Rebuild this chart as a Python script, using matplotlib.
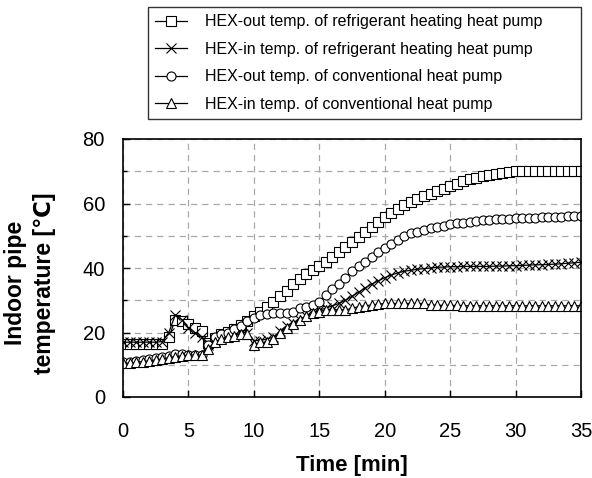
import numpy as np
import matplotlib.pyplot as plt
from matplotlib.ticker import MultipleLocator

plt.rcParams['font.family'] = ['Liberation Sans', 'DejaVu Sans']

# time axis, one reading every half minute
t = np.arange(0, 35.5, 0.5)

# HEX-out temp. of refrigerant heating heat pump (squares)
refOut = [16.5, 16.5, 16.5, 16.3, 16.3, 16.3, 16.5, 18.5, 24.0, 23.5,
          22.5, 21.5, 20.5, 16.8, 18.2, 19.5, 20.3, 21.0, 22.2, 23.5,
          25.0, 26.5, 28.0, 29.5, 31.3, 33.0, 35.0, 36.5, 38.0, 39.3,
          40.7, 42.0, 43.3, 45.0, 46.5, 48.0, 49.7, 51.3, 52.8, 54.3,
          55.7, 57.0, 58.3, 59.5, 60.5, 61.3, 62.2, 63.0, 63.8, 64.6,
          65.4, 66.2, 66.9, 67.5, 68.0, 68.4, 68.8, 69.1, 69.4, 69.7,
          70.0, 70.0, 70.0, 70.0, 70.0, 70.0, 70.0, 70.0, 70.0, 70.0, 70.0]

# HEX-in temp. of refrigerant heating heat pump (crosses)
refIn = [17.0, 17.0, 17.0, 17.0, 17.0, 17.0, 17.2, 20.0, 25.5, 24.0,
         21.5, 20.0, 18.5, 16.0, 17.5, 18.5, 19.0, 19.5, 20.0, 20.0,
         17.5, 17.5, 18.0, 18.5, 20.5, 22.0, 23.0, 24.0, 25.0, 26.0,
         27.0, 27.5, 28.3, 29.0, 30.0, 31.2, 32.5, 33.8, 35.0, 36.0,
         37.0, 37.8, 38.5, 39.0, 39.3, 39.6, 39.8, 40.0, 40.2, 40.3,
         40.4, 40.4, 40.5, 40.5, 40.5, 40.5, 40.5, 40.6, 40.6, 40.7,
         40.7, 40.8, 40.9, 41.0, 41.0, 41.1, 41.2, 41.3, 41.5, 41.6, 41.8]

# HEX-out temp. of conventional heat pump (circles)
conOut = [11.0, 11.0, 11.2, 11.5, 11.8, 12.0, 12.3, 12.8, 13.3, 13.3,
          13.0, 13.0, 13.0, 16.0, 18.5, 19.5, 20.0, 21.0, 22.0, 23.5,
          24.5, 25.5, 25.8, 26.0, 26.0, 26.0, 26.5, 27.5, 28.0, 28.5,
          29.5, 31.5, 33.5, 35.0, 37.0, 39.0, 40.5, 42.0, 43.5, 45.0,
          46.3, 47.5, 48.7, 50.0, 50.8, 51.3, 51.8, 52.3, 52.7, 53.1,
          53.5, 53.8, 54.1, 54.3, 54.6, 54.8, 55.0, 55.1, 55.2, 55.3,
          55.4, 55.5, 55.5, 55.6, 55.7, 55.8, 55.8, 55.9, 56.0, 56.0, 56.0]

# HEX-in temp. of conventional heat pump (triangles)
conIn = [10.5, 10.5, 10.7, 11.0, 11.2, 11.5, 11.8, 12.2, 12.5, 12.8,
         13.0, 13.0, 13.0, 15.0, 17.0, 18.0, 18.5, 19.0, 19.5, 19.5,
         16.0, 17.0, 17.0, 18.0, 20.0, 21.5, 22.5, 24.0, 25.0, 26.0,
         26.5, 27.0, 27.0, 27.0, 27.0, 27.5, 28.0, 28.3, 28.5, 28.8,
         29.0, 29.0, 29.0, 29.0, 29.0, 29.0, 29.0, 28.5, 28.5, 28.4,
         28.4, 28.4, 28.3, 28.3, 28.3, 28.3, 28.3, 28.3, 28.3, 28.3,
         28.3, 28.3, 28.3, 28.3, 28.3, 28.3, 28.3, 28.3, 28.3, 28.3, 28.3]

labels = ['HEX-out temp. of refrigerant heating heat pump',
          'HEX-in temp. of refrigerant heating heat pump',
          'HEX-out temp. of conventional heat pump',
          'HEX-in temp. of conventional heat pump']

fig = plt.figure(figsize=(5.92, 4.78), dpi=100)
ax = fig.add_axes([123/592, 1-397/478, 458/592, 258/478])

series = [refOut, refIn, conOut, conIn]
markers = ['s', 'x', 'o', '^']
for y, m, lab in zip(series, markers, labels):
    ax.plot(t, y, color='black', lw=0.9, marker=m, markersize=6.5,
            markerfacecolor='white', markeredgecolor='black',
            markeredgewidth=0.8, label=lab)

ax.set_xlim(0, 35)
ax.set_ylim(0, 80)
ax.xaxis.set_major_locator(MultipleLocator(5))
ax.yaxis.set_major_locator(MultipleLocator(20))
ax.yaxis.set_minor_locator(MultipleLocator(10))
ax.grid(True, which='both', ls=(0, (5, 4)), color='#a8a8a8', lw=0.9)
ax.tick_params(which='both', direction='in', length=5, width=1,
               labelsize=14.5)
ax.tick_params(axis='x', pad=18)
ax.tick_params(axis='y', pad=13)
ax.tick_params(which='minor', length=3)
for s in ax.spines.values():
    s.set_linewidth(1.2)

ax.set_xlabel('Time [min]', fontsize=16, fontweight='bold', va='center')
ax.xaxis.set_label_coords(0.5, -(465 - 397) / 258, transform=ax.transAxes)
ax.set_ylabel('Indoor pipe\ntemperature [℃]', fontsize=16.5,
              fontweight='bold', linespacing=1.3, va='center', ha='center')
ax.yaxis.set_label_coords(-(123 - 30) / 458, (397 - 283) / 258,
                          transform=ax.transAxes)

leg = fig.legend(loc='upper left',
                 bbox_to_anchor=(148/592, 1-118/478, 433/592, 111/478),
                 mode='expand', fontsize=11.5, handlelength=2.0,
                 labelspacing=0.78, borderpad=0.45, handletextpad=1.1,
                 fancybox=False, edgecolor='black', borderaxespad=0)
leg.get_frame().set_linewidth(1.0)

fig.savefig('out.png', dpi=100)
